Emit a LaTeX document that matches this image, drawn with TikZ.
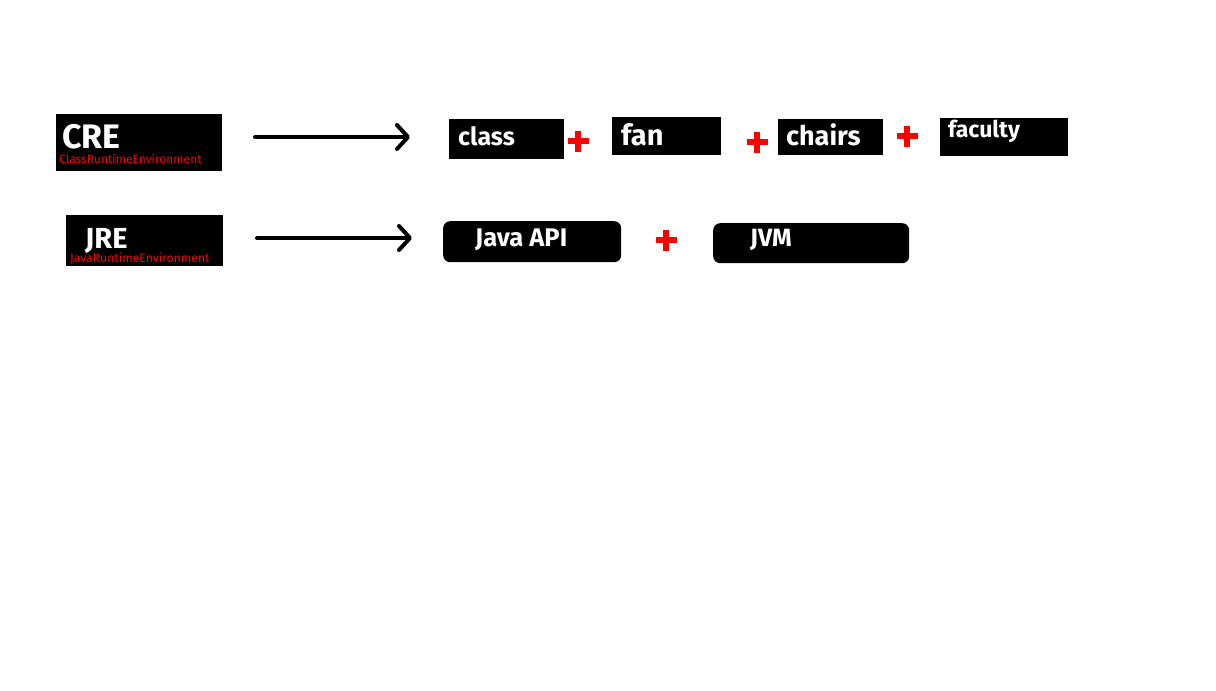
\documentclass[tikz,border=0pt]{standalone}
\usepackage{fontspec}
\setmainfont{Fira Sans}
\usetikzlibrary{arrows.meta}
\newcommand{\fsz}[1]{\fontsize{#1}{#1}\selectfont}
\begin{document}
\begin{tikzpicture}[x=1pt,y=-1pt,
  box/.style={fill=black,inner sep=0pt,anchor=north west},
  rbox/.style={box,rounded corners=7pt},
  lbl/.style={text=white,font=\bfseries\fsz{27},inner sep=0pt,anchor=base west},
  sub/.style={text=red,font=\fsz{12},inner sep=0pt,anchor=base west},
  arr/.style={line width=4pt,line cap=round,-{Straight Barb[length=11pt,width=24pt,line cap=round,line join=round]}},
  plussign/.pic={\draw[red,line width=5.5pt] (-10.5,0) -- (10.5,0) (0,-10.5) -- (0,10.5);}
]
\useasboundingbox[fill=white] (0,0) rectangle (1216,691);

% left boxes
\node[box,minimum width=166pt,minimum height=57pt] (cre) at (56,114) {};
\node[lbl,font=\bfseries\fsz{34}] (cret) at (62,148) {CRE};
\node[sub] (cres) at (59,163) {ClassRuntimeEnvironment};

\node[box,minimum width=157pt,minimum height=51pt] (jre) at (66,215) {};
\node[lbl,font=\bfseries\fsz{29}] (jret) at (85,248) {JRE};
\node[sub,font=\fsz{12.2}] (jres) at (70,262) {JavaRuntimeEnvironment};

% arrows
\coordinate (a1s) at (255,137);
\coordinate (a1e) at (410,137);
\coordinate (a2s) at (257,238);
\coordinate (a2e) at (412,238);
\draw[arr] (a1s) -- (a1e);
\draw[arr] (a2s) -- (a2e);

% top row
\node[box,minimum width=115pt,minimum height=40pt] (class) at (449,119) {};
\node[lbl,font=\bfseries\fsz{25}] (classt) at (458,145) {class};
\pic at (578,141) {plussign};

\node[box,minimum width=109pt,minimum height=38pt] (fan) at (612,117) {};
\node[lbl,font=\bfseries\fsz{29}] (fant) at (621,145) {fan};
\pic at (757,142) {plussign};

\node[box,minimum width=105pt,minimum height=36pt] (chairs) at (778,119) {};
\node[lbl] (chairst) at (786,145) {chairs};
\pic at (907,136) {plussign};

\node[box,minimum width=128pt,minimum height=38pt] (faculty) at (940,118) {};
\node[lbl,font=\bfseries\fsz{23}] (facultyt) at (948,137) {faculty};

% bottom row
\node[rbox,minimum width=178pt,minimum height=41pt] (api) at (443,221) {};
\node[lbl,font=\bfseries\fsz{25.5}] (apit) at (475,246) {Java API};
\pic at (666,240) {plussign};

\node[rbox,minimum width=196pt,minimum height=40pt] (jvm) at (713,223) {};
\node[lbl,font=\bfseries\fsz{25}] (jvmt) at (750,246) {JVM};
\end{tikzpicture}
\end{document}
